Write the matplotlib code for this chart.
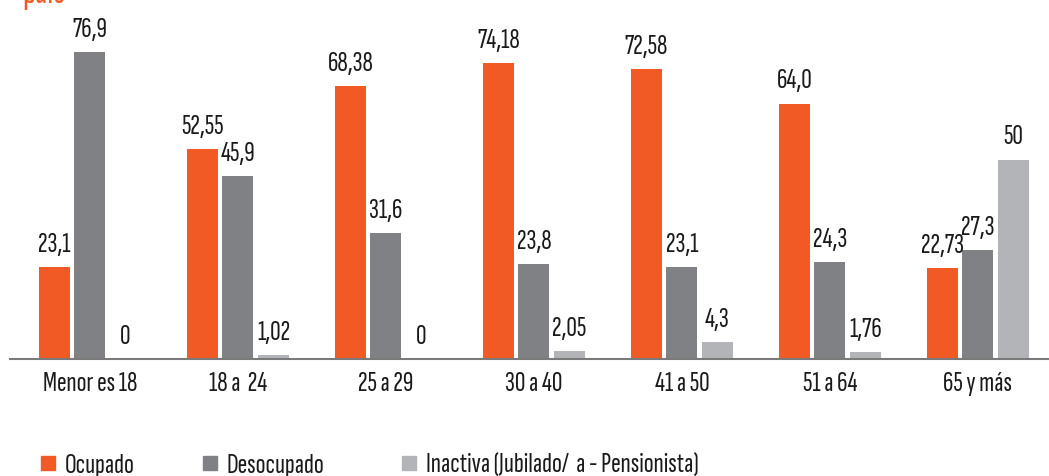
import matplotlib
matplotlib.use("Agg")
import matplotlib.pyplot as plt
import numpy as np

plt.rcParams["font.family"] = ["Sofia Sans Extra Condensed", "DejaVu Sans"]

categorias = ["Menor es 18", "18 a  24", "25 a 29", "30 a 40", "41 a 50", "51 a 64", "65 y más"]
series = ["Ocupado", "Desocupado", "Inactiva (Jubilado/  a - Pensionista)"]
ocupado = [23.1, 52.55, 68.38, 74.18, 72.58, 64.0, 22.73]
desocupado = [76.9, 45.9, 31.6, 23.8, 23.1, 24.3, 27.3]
inactiva = [0, 1.02, 0, 2.05, 4.3, 1.76, 50]
etiq_ocupado = ["23,1", "52,55", "68,38", "74,18", "72,58", "64,0", "22,73"]
etiq_desocupado = ["76,9", "45,9", "31,6", "23,8", "23,1", "24,3", "27,3"]
etiq_inactiva = ["0", "1,02", "0", "2,05", "4,3", "1,76", "50"]

C_OCU = "#f15a24"
C_DES = "#808184"
C_INA = "#b2b4b7"
C_TXT = "#1a1a1a"
FS = 21

W, H = 1049, 476
fig = plt.figure(figsize=(W / 100, H / 100), dpi=100)
ax = fig.add_axes([10 / W, 1 - 359 / H, 1 - 10 / W, 359 / H])

x = np.arange(len(categorias))
bw = 0.21
off = 0.24
datos = [(ocupado, etiq_ocupado, C_OCU), (desocupado, etiq_desocupado, C_DES),
         (inactiva, etiq_inactiva, C_INA)]
for i, (vals, etq, col) in enumerate(datos):
    xs = x + (i - 1) * off
    ax.bar(xs, vals, width=bw, color=col, label=series[i], zorder=2)
    for xi, v, t in zip(xs, vals, etq):
        ax.annotate(t, (xi, v), xytext=(0, 11), textcoords="offset points",
                    ha="center", va="baseline", fontsize=FS, color=C_TXT)

ax.set_xlim(-0.54, 6.48)
ax.set_ylim(0, 90)
for s in ["top", "right", "left"]:
    ax.spines[s].set_visible(False)
ax.spines["bottom"].set_color("#7a7a7a")
ax.spines["bottom"].set_linewidth(1.5)
ax.set_yticks([])
ax.set_xticks(x)
ax.set_xticklabels(categorias, fontsize=FS, color=C_TXT)
ax.tick_params(axis="x", length=0, pad=23)
for lab in ax.get_xticklabels():
    lab.set_verticalalignment("baseline")

# legend
leg_x = [41, 203, 402]
for lx, name, (_, _, col) in zip(leg_x, series, datos):
    fig.patches.append(plt.Rectangle((lx / W, 1 - 470 / H), 14 / W, 14 / H,
                                     transform=fig.transFigure, color=col))
    fig.text((lx + 24) / W, 1 - 473 / H, name, fontsize=FS, color=C_TXT,
             va="baseline", ha="left")

# clipped title remnant
fig.text(22 / W, 1 - 3 / H, "país", fontsize=28, fontweight="bold", color=C_OCU,
         va="baseline", ha="left")

fig.savefig("out.png", dpi=100)
